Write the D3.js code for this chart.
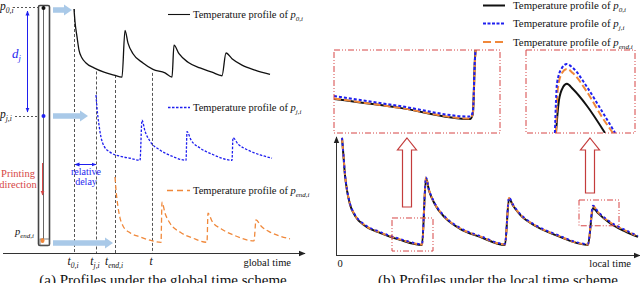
<!DOCTYPE html>
<html><head><meta charset="utf-8">
<script src="https://cdn.jsdelivr.net/npm/d3@7"></script>
<style>body{margin:0;background:#fff}svg{display:block}text{font-family:'Liberation Serif','DejaVu Serif',serif}</style>
</head><body>
<script>
// ---------- DATA (time, normalized temperature) ----------
// Left panel: global time (t0,i = 0)
const globalP0 = [[0,1.0],[1,0.82],[3,0.61],[5,0.42],[8,0.31],[12,0.24],[20,0.17],[30,0.11],[40,0.07],[48,0.04],
  [51,0.70],[54,0.52],[59,0.37],[69,0.24],[79,0.15],[91,0.10],[98,0.04],
  [100,0.49],[105,0.37],[114,0.25],[126,0.17],[138,0.11],[148,0.06],
  [152,0.38],[158,0.30],[168,0.21],[181,0.14],[196,0.08]];
const globalPj = [[22,1.0],[23,0.81],[25,0.56],[27,0.38],[30,0.25],[36,0.16],[46,0.10],[56,0.07],[66,0.04],
  [68,0.63],[71,0.47],[76,0.32],[86,0.19],[98,0.10],[112,0.04],
  [113,0.46],[117,0.34],[126,0.22],[138,0.13],[158,0.04],
  [159,0.37],[164,0.28],[174,0.19],[186,0.12],[198,0.07]];
const globalPend = [[41,1.0],[42,0.81],[44,0.56],[46,0.40],[49,0.28],[56,0.18],[66,0.12],[76,0.07],[87,0.04],
  [88,0.63],[91,0.47],[96,0.32],[106,0.19],[119,0.10],[133,0.04],
  [134,0.47],[138,0.35],[147,0.24],[159,0.15],[180,0.06],
  [182,0.37],[187,0.28],[196,0.19],[206,0.13],[216,0.09]];
const globalTicks = [0, 22, 41, 78];
const globalTickSubs = ["0,i", "j,i", "end,i", ""];
const guideTopT = [1.0, 0.12, 0.07, 0.10];

// Right panel: local time
const localP0 = [[0,1.10],[1,0.98],[3,0.73],[5,0.58],[8,0.44],[13,0.33],[23,0.23],[38,0.16],[58,0.09],[80,0.04],
  [84,0.70],[87,0.58],[93,0.44],[103,0.31],[118,0.20],[138,0.12],[163,0.04],
  [167,0.50],[171,0.43],[178,0.34],[193,0.23],[213,0.14],[246,0.04],
  [251,0.405],[256,0.355],[268,0.255],[283,0.175],[296,0.12]];
const localPj = [[0,1.10],[1,0.99],[3,0.74],[5,0.59],[8,0.45],[13,0.34],[23,0.24],[38,0.17],[58,0.10],[80,0.05],
  [84,0.71],[87,0.59],[93,0.45],[103,0.32],[118,0.21],[138,0.13],[163,0.05],
  [167,0.51],[171,0.44],[178,0.35],[193,0.24],[213,0.15],[246,0.05],
  [251,0.43],[256,0.37],[268,0.27],[283,0.19],[296,0.13]];
const localPend = [[0,1.10],[1,0.985],[3,0.735],[5,0.585],[8,0.445],[13,0.335],[23,0.235],[38,0.165],[58,0.095],[80,0.045],
  [84,0.705],[87,0.585],[93,0.445],[103,0.315],[118,0.205],[138,0.125],[163,0.045],
  [167,0.505],[171,0.435],[178,0.345],[193,0.235],[213,0.145],[246,0.045],
  [251,0.425],[256,0.365],[268,0.265],[283,0.185],[296,0.125]];

// Zoom window 1 (before 2nd peak) and zoom window 2 (4th peak), local time / temperature
const zoomA = {t:[50,91], T:[-0.02,0.307]};
const zoomB = {t:[237,277], T:[0.23,0.485]};
const insetA_P0 = [[50,0.114],[66.3,0.079],[83.6,0.035],[84.3,0.055],[84.8,0.268],[85.1,0.34]];
const insetA_Pj = [[50,0.126],[66.3,0.086],[83.6,0.045],[84.3,0.063],[84.8,0.268],[85.1,0.34]];
const insetA_Pend = [[50,0.116],[66.3,0.079],[83.6,0.037],[84.3,0.059],[84.9,0.285],[85.3,0.34]];
const insetB_P0 = [[248.0,0.23],[249.1,0.331],[250.6,0.371],[252.0,0.381],[254.2,0.365],[259.4,0.313],[266.0,0.23]];
const insetB_Pj = [[247.6,0.23],[248.4,0.384],[250.2,0.430],[252.0,0.442],[254.2,0.430],[259.4,0.371],[265.3,0.291],[269.7,0.23]];
const insetB_Pend = [[248.0,0.23],[248.7,0.368],[250.2,0.414],[252.0,0.427],[254.2,0.414],[259.4,0.356],[264.9,0.279],[268.9,0.23]];

// ---------- STYLE ----------
const BLACK="#111", BLUE="#1f1fef", ORANGE="#f0883a", RED="#d64545", LBLUE="#a9c9e8", GRAY="#555";
const FONT = "'Liberation Serif','DejaVu Serif',serif";

const W=640, H=283;
const svg = d3.select("body").append("svg").attr("width",W).attr("height",H).attr("font-family",FONT);
const defs = svg.append("defs");

function mkArrow(id, color, size){
  defs.append("marker").attr("id",id).attr("viewBox","0 0 10 10").attr("refX",9).attr("refY",5)
    .attr("markerWidth",size).attr("markerHeight",size).attr("orient","auto-start-reverse")
    .append("path").attr("d","M0,1L10,5L0,9z").attr("fill",color);
}
mkArrow("arrBlk","#222",7);
mkArrow("arrBlue",BLUE,5);
mkArrow("arrRed",RED,5);

function txt(g, x, y, s, size, color, anchor){
  return g.append("text").attr("x",x).attr("y",y).attr("font-family",FONT).attr("font-size",size)
    .attr("fill",color||"#111").attr("text-anchor",anchor||"start").text(s);
}
function label(g, x, y, parts, opts={}){
  const t = g.append("text").attr("x",x).attr("y",y).attr("font-family",FONT).attr("font-size",opts.size||10)
    .attr("fill",opts.color||"#111").attr("text-anchor",opts.anchor||"start");
  parts.forEach(p=>{
    const s = t.append("tspan").text(p.s);
    if(p.i) s.attr("font-style","italic");
    if(p.sub) s.attr("font-size",(opts.size||10)*0.66).attr("dy",3);
  });
  return t;
}

// ================= LEFT PANEL =================
const L = svg.append("g");
const xG = d3.scaleLinear().domain([-71,229]).range([3,303]);
const yR0 = d3.scaleLinear().domain([0,1]).range([80,9]);
const yRj = d3.scaleLinear().domain([0,1]).range([163,95]);
const yRe = d3.scaleLinear().domain([0,1]).range([245,177]);

// x axis
L.append("line").attr("x1",3).attr("x2",305).attr("y1",253.5).attr("y2",253.5)
  .attr("stroke","#333").attr("stroke-width",1).attr("marker-end","url(#arrBlk)");

// guide dashed lines
globalTicks.forEach((t,i)=>{
  L.append("line").attr("x1",xG(t)+0.5).attr("x2",xG(t)+0.5).attr("y1",yR0(guideTopT[i])).attr("y2",253)
    .attr("stroke",GRAY).attr("stroke-width",1).attr("stroke-dasharray","3,2");
  label(L, xG(t)-1, 265, [{s:"t",i:true},{s:globalTickSubs[i],i:true,sub:true}], {size:11.5, anchor:"middle"});
});
txt(L, 291, 266, "global time", 10.5, "#111", "end");

// column (printed wall)
L.append("rect").attr("x",38.5).attr("y",5.5).attr("width",11).attr("height",240).attr("rx",1.5)
  .attr("fill","#fff").attr("stroke","#444").attr("stroke-width",1.6);
L.append("line").attr("x1",43.5).attr("x2",43.5).attr("y1",6).attr("y2",240).attr("stroke","#666").attr("stroke-width",1);
L.append("rect").attr("x",40).attr("y",239).attr("width",9).attr("height",6).attr("fill","#fff").attr("stroke","#666").attr("stroke-width",0.8);
L.append("circle").attr("cx",43.5).attr("cy",8).attr("r",2).attr("fill","#111");
L.append("circle").attr("cx",43.5).attr("cy",116).attr("r",2).attr("fill",BLUE);
L.append("ellipse").attr("cx",42.5).attr("cy",240.5).attr("rx",2).attr("ry",2.6).attr("fill",ORANGE);

// point labels
label(L, 0, 10, [{s:"p",i:true},{s:"0,i",i:true,sub:true}], {size:11.5});
L.append("line").attr("x1",13).attr("x2",38).attr("y1",7.5).attr("y2",7.5).attr("stroke",GRAY).attr("stroke-dasharray","2,2");
label(L, 0, 118, [{s:"p",i:true},{s:"j,i",i:true,sub:true}], {size:11.5});
L.append("line").attr("x1",15).attr("x2",38).attr("y1",116.5).attr("y2",116.5).attr("stroke",GRAY).attr("stroke-dasharray","2,2");
label(L, 15, 235, [{s:"p",i:true},{s:"end,i",i:true,sub:true}], {size:10.5});

// d_j arrow
L.append("line").attr("x1",27.5).attr("x2",27.5).attr("y1",11).attr("y2",112).attr("stroke",BLUE).attr("stroke-width",1)
  .attr("marker-start","url(#arrBlue)").attr("marker-end","url(#arrBlue)");
label(L, 12, 58, [{s:"d",i:true},{s:"j",i:true,sub:true}], {size:13, color:BLUE});

// printing direction
txt(L, 18, 177, "Printing", 10.5, RED, "middle");
txt(L, 18, 188, "direction", 10.5, RED, "middle");
L.append("line").attr("x1",42.5).attr("x2",42.5).attr("y1",163).attr("y2",195).attr("stroke",RED).attr("stroke-width",1)
  .attr("marker-end","url(#arrRed)");

// relative delay
L.append("line").attr("x1",xG(0)+1).attr("x2",xG(22)).attr("y1",164.5).attr("y2",164.5).attr("stroke",BLUE).attr("stroke-width",1)
  .attr("marker-start","url(#arrBlue)").attr("marker-end","url(#arrBlue)");
txt(L, 86, 175, "relative", 10, BLUE, "middle");
txt(L, 86, 185, "delay", 10, BLUE, "middle");

// light blue deposition arrows
function fatArrow(g, x1, x2, y){
  const hl=8, sh=2.8, hh=5.5;
  g.append("path").attr("d",`M${x1},${y-sh}L${x2-hl},${y-sh}L${x2-hl},${y-hh}L${x2},${y}L${x2-hl},${y+hh}L${x2-hl},${y+sh}L${x1},${y+sh}Z`)
    .attr("fill",LBLUE);
}
fatArrow(L, 53, xG(-2), 10);
fatArrow(L, 53, xG(14), 116);
fatArrow(L, 53, xG(39), 243);

// curves
function curve(g, data, x, y, color, dash, w){
  g.append("path").datum(data).attr("fill","none").attr("stroke",color).attr("stroke-width",w)
    .attr("stroke-dasharray",dash||null).attr("stroke-linejoin","round")
    .attr("d", d3.line().x(d=>x(d[0])).y(d=>y(d[1])).curve(d3.curveMonotoneX));
}
curve(L, globalP0, xG, yR0, BLACK, null, 1.3);
curve(L, globalPj, xG, yRj, BLUE, "2.5,1.5", 1.3);
curve(L, globalPend, xG, yRe, ORANGE, "5,3", 1.3);

// legends
function legendRow(g, x1, x2, y, tx, color, dash, w, sub, size){
  g.append("line").attr("x1",x1).attr("x2",x2).attr("y1",y).attr("y2",y).attr("stroke",color).attr("stroke-width",w)
    .attr("stroke-dasharray",dash||null);
  label(g, tx, y+3.5, [{s:"Temperature profile of "},{s:"p",i:true},{s:sub,i:true,sub:true}], {size:size});
}
legendRow(L,168,190,14.5,193,BLACK,null,1.1,"0,i",10.5);
legendRow(L,168,190,107.5,193,BLUE,"2.5,1.5",1.3,"j,i",10.5);
legendRow(L,167,190,190.5,193,ORANGE,"6,4",1.3,"end,i",10.5);

// ================= RIGHT PANEL =================
const R = svg.append("g");
const xL = d3.scaleLinear().domain([0,300]).range([342,642]);
const yL = d3.scaleLinear().domain([0,1]).range([249,148]);

R.append("line").attr("x1",336.5).attr("x2",336.5).attr("y1",255).attr("y2",137).attr("stroke","#333").attr("marker-end","url(#arrBlk)");
R.append("line").attr("x1",336).attr("x2",640).attr("y1",255.5).attr("y2",255.5).attr("stroke","#333").attr("marker-end","url(#arrBlk)");
txt(R, 340, 267, "0", 10.5, "#111", "middle");
txt(R, 631, 267, "local time", 10.5, "#111", "end");

const clipMain = defs.append("clipPath").attr("id","clipMain");
clipMain.append("rect").attr("x",337).attr("y",136).attr("width",303).attr("height",119);
const Rm = R.append("g").attr("clip-path","url(#clipMain)");
curve(Rm, localP0, xL, yL, BLACK, null, 2);
curve(Rm, localPend, xL, yL, ORANGE, "5,3", 2);
curve(Rm, localPj, xL, yL, BLUE, "2.5,3", 1.8);

// small zoom boxes
function ddRect(g, x1, y1, x2, y2){
  g.append("rect").attr("x",Math.min(x1,x2)).attr("y",Math.min(y1,y2)).attr("width",Math.abs(x2-x1)).attr("height",Math.abs(y2-y1))
    .attr("fill","none").attr("stroke",RED).attr("stroke-width",1).attr("stroke-dasharray","6,2,1,2,1,2");
}
ddRect(R, xL(zoomA.t[0]), yL(zoomA.T[0]), xL(zoomA.t[1]), yL(zoomA.T[1]));
ddRect(R, xL(zoomB.t[0]), yL(zoomB.T[0]), xL(zoomB.t[1]), yL(zoomB.T[1]));

// insets
const boxA = {x1:334, x2:500, y1:50, y2:133};
const boxB = {x1:526, x2:635, y1:50, y2:133};
function inset(box, z, p0, pj, pe, id){
  const xs = d3.scaleLinear().domain(z.t).range([box.x1, box.x2]);
  const ys = d3.scaleLinear().domain(z.T).range([box.y2, box.y1]);
  defs.append("clipPath").attr("id",id).append("rect").attr("x",box.x1).attr("y",box.y1)
    .attr("width",box.x2-box.x1).attr("height",box.y2-box.y1);
  const g = R.append("g").attr("clip-path",`url(#${id})`);
  curve(g, p0, xs, ys, BLACK, null, 2);
  curve(g, pe, xs, ys, ORANGE, "7,3", 2);
  curve(g, pj, xs, ys, BLUE, "3,2", 2);
  ddRect(R, box.x1, box.y1, box.x2, box.y2);
}
inset(boxA, zoomA, insetA_P0, insetA_Pj, insetA_Pend, "clipA");
inset(boxB, zoomB, insetB_P0, insetB_Pj, insetB_Pend, "clipB");

// hollow arrows
function hollowUp(g, cx, yTop, yBot){
  const sw=4.5, hw=9.5, hh=12;
  g.append("path").attr("d",`M${cx},${yTop}L${cx+hw},${yTop+hh}L${cx+sw},${yTop+hh}L${cx+sw},${yBot}L${cx-sw},${yBot}L${cx-sw},${yTop+hh}L${cx-hw},${yTop+hh}Z`)
    .attr("fill","#fff").attr("stroke","#c43c3c").attr("stroke-width",1.2);
}
hollowUp(R, 407, 138, 207);
hollowUp(R, 590, 138, 193);

// right legend
legendRow(R,483,505,5.5,513,BLACK,null,2,"0,i",10.8);
legendRow(R,483,505,23.5,513,BLUE,"3,1.5",2,"j,i",10.8);
legendRow(R,483,505,42,513,ORANGE,"8,4",2,"end,i",10.8);

// captions (cut by the bottom edge, as in the source figure)
txt(svg, 163, 285, "(a)  Profiles under the global time scheme", 15, "#111", "middle");
txt(svg, 498, 285, "(b)  Profiles under the local time scheme", 15, "#111", "middle");
</script>
</body></html>
